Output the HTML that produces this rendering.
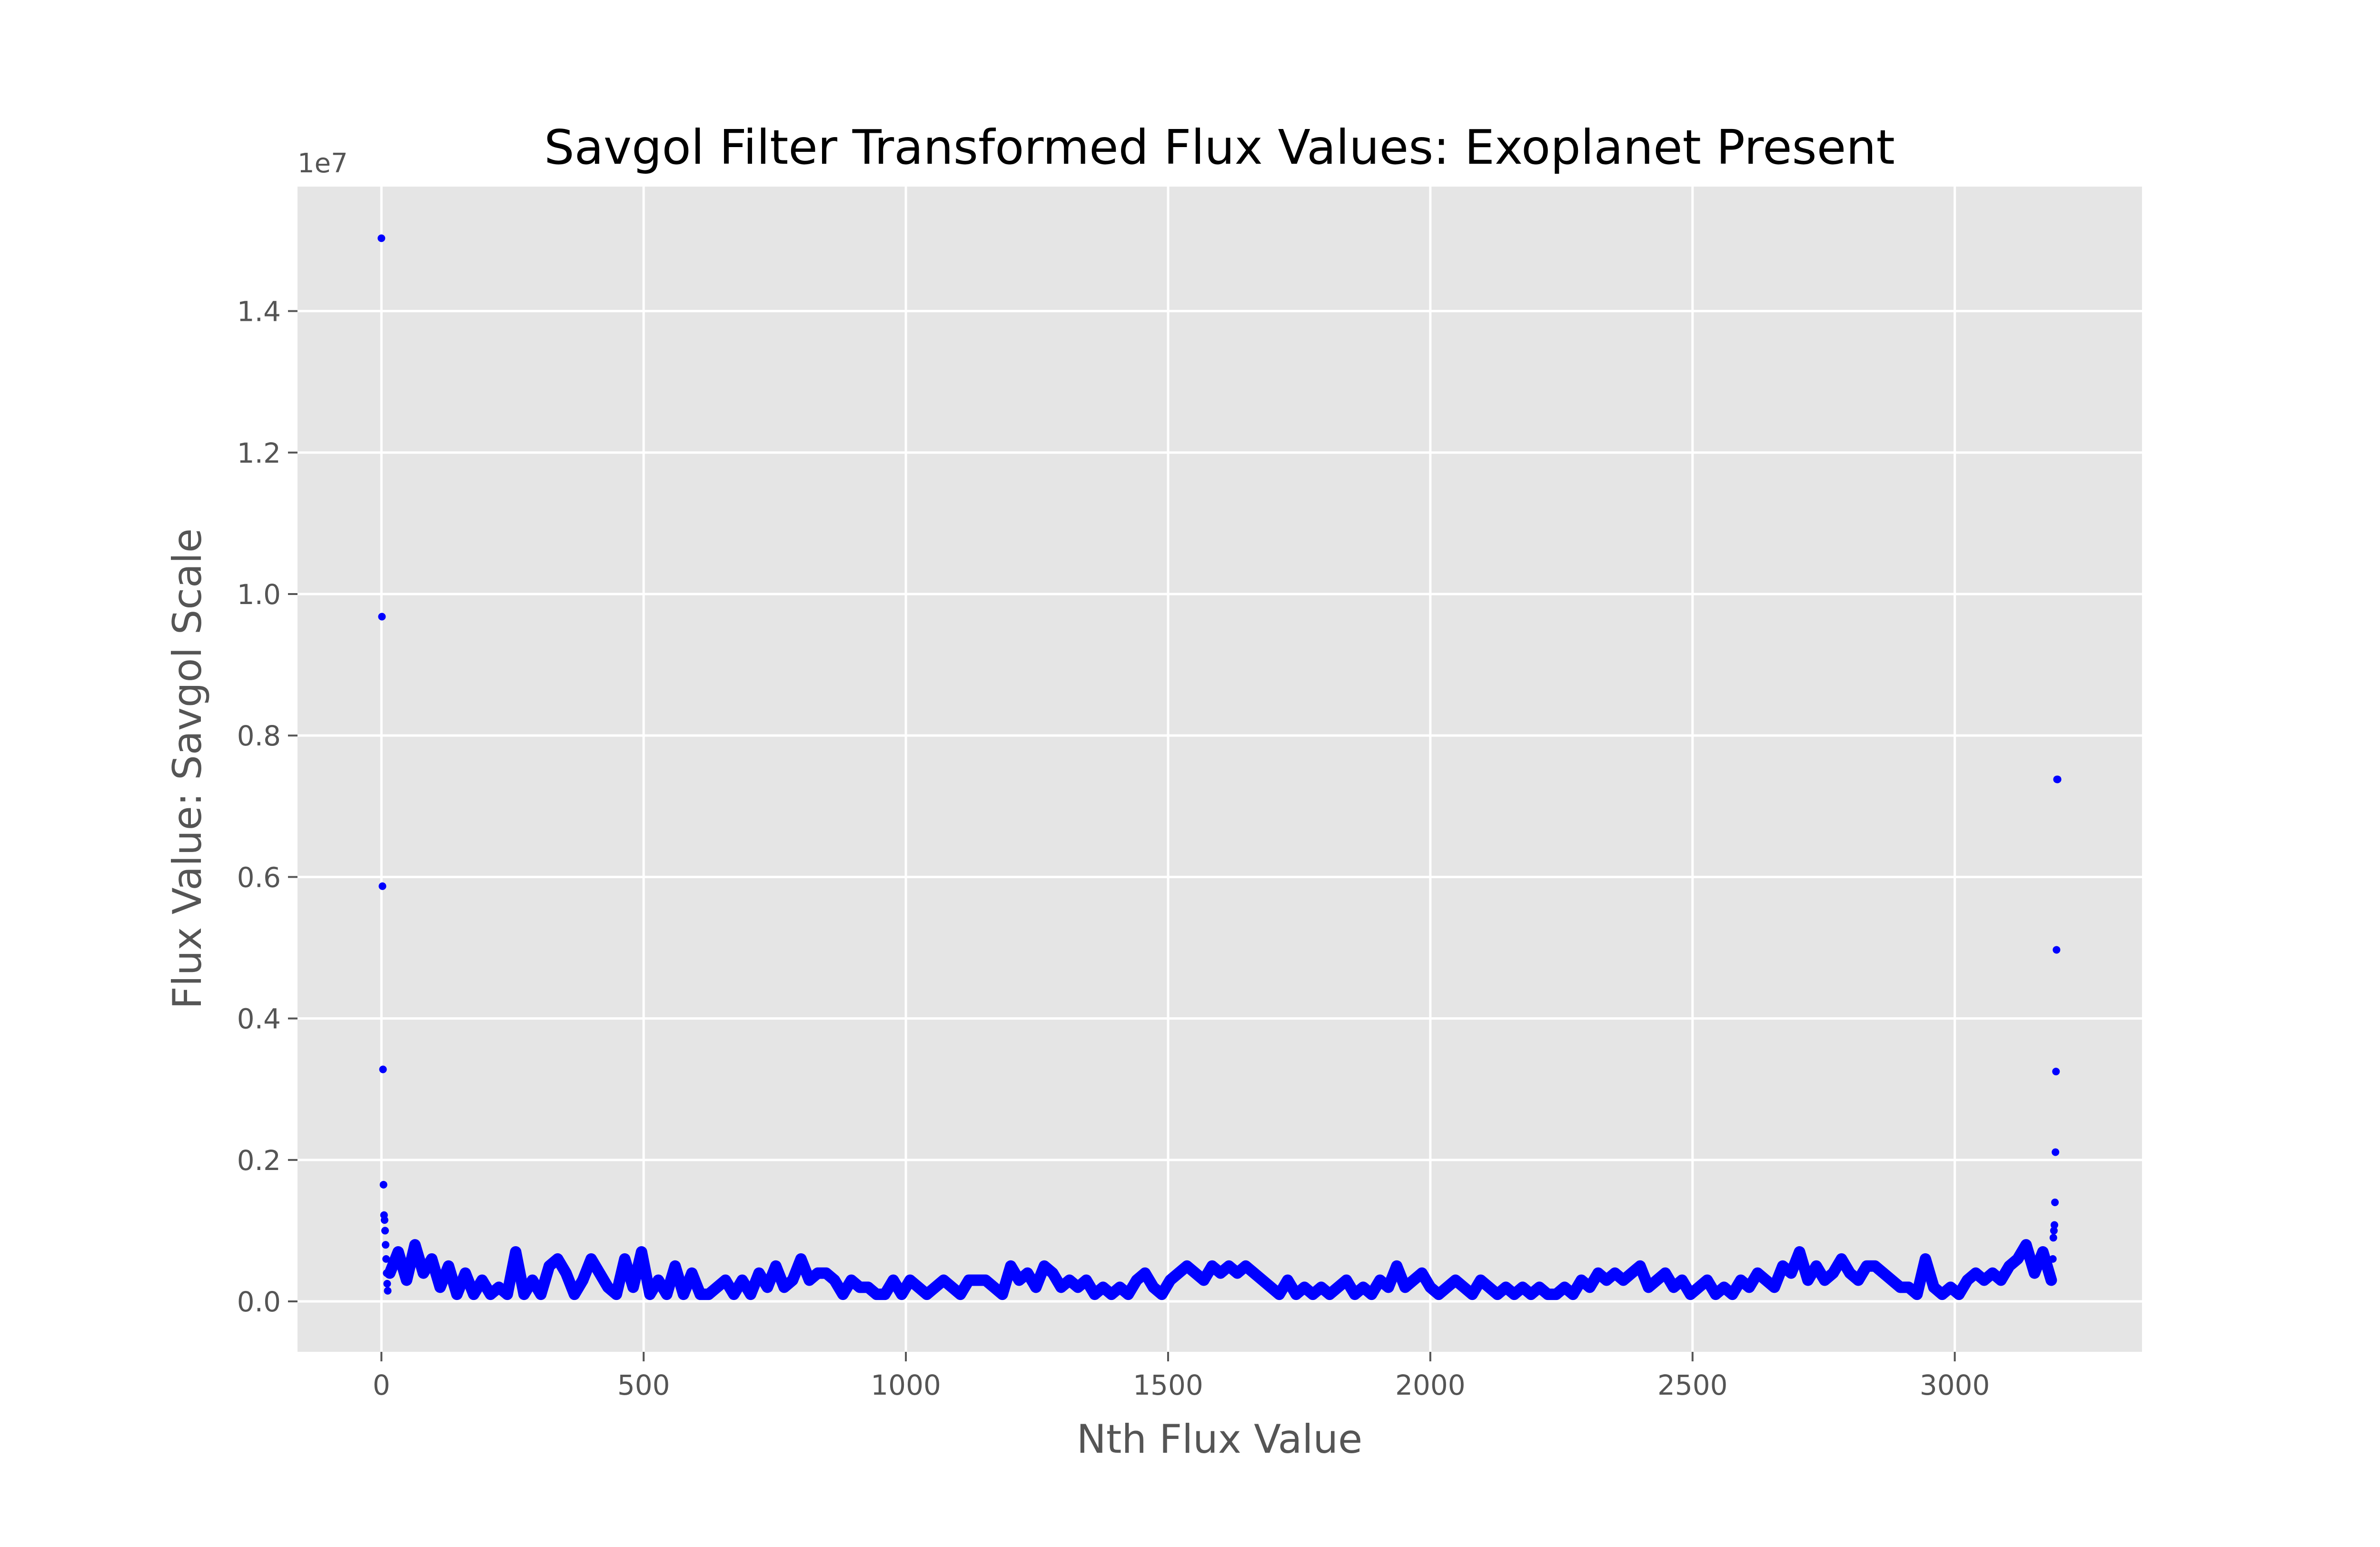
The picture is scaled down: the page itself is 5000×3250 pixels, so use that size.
<!DOCTYPE html>
<html><head><meta charset="utf-8"><style>
html,body{margin:0;padding:0;background:#fff}
svg{display:block}
text{font-family:"DejaVu Sans","Liberation Sans",sans-serif}
</style></head><body>
<svg id="chart" width="5000" height="3250" viewBox="0 0 5000 3250" xmlns="http://www.w3.org/2000/svg">
<rect width="5000" height="3250" fill="#fff"/>
<rect x="625" y="392" width="3875" height="2448" fill="#E5E5E5"/>
<g id="grid"></g>
<g id="ticks"></g>
<g id="series"></g>
<text x="2562" y="344" font-size="100" text-anchor="middle" fill="#000">Savgol Filter Transformed Flux Values: Exoplanet Present</text>
<text x="625" y="362" font-size="56" fill="#555">1e7</text>
<text x="2562" y="3052" font-size="83" text-anchor="middle" fill="#555">Nth Flux Value</text>
<text x="0" y="0" font-size="83" text-anchor="middle" fill="#555" transform="translate(422,1615) rotate(-90)">Flux Value: Savgol Scale</text>
</svg>
<script>
const xTicks = [0, 500, 1000, 1500, 2000, 2500, 3000];
const xTickLabels = ["0", "500", "1000", "1500", "2000", "2500", "3000"];
const yTicks = [0, 0.2, 0.4, 0.6, 0.8, 1.0, 1.2, 1.4];
const yTickLabels = ["0.0", "0.2", "0.4", "0.6", "0.8", "1.0", "1.2", "1.4"];
// start spike points (index, value in 1e7)
const startIdx = [0,1,2,3,4,5,6,7,8,9,10,11,12];
const startVals = [1.503,0.968,0.587,0.328,0.165,0.122,0.115,0.100,0.080,0.060,0.040,0.025,0.015];
// end spike points
const endIdx = [3186,3187,3188,3189,3190,3191,3192,3193,3194,3195,3196];
const endVals = [0.030,0.060,0.090,0.100,0.108,0.140,0.211,0.325,0.497,0.738,0.738];
// main band sampled every 16 indices from 16 (values in 1e5)
const bandStep = 16;
const bandVals = [4,7,3,8,4,6,2,5,1,4,1,3,1,2,1,7,1,3,1,5,6,4,1,3,6,4,2,1,6,2,7,1,3,1,5,1,4,1,1,2,3,1,3,1,4,2,5,2,3,6,3,4,4,3,1,3,2,2,1,1,3,1,3,2,1,2,3,2,1,3,3,3,2,1,5,3,4,2,5,4,2,3,2,3,1,2,1,2,1,3,4,2,1,3,4,5,4,3,5,4,5,4,5,4,3,2,1,3,1,2,1,2,1,2,3,1,2,1,3,2,5,2,3,4,2,1,2,3,2,1,3,2,1,2,1,2,1,2,1,1,2,1,3,2,4,3,4,3,4,5,2,3,4,2,3,1,2,3,1,2,1,3,2,4,3,2,5,4,7,3,5,3,4,6,4,3,5,5,4,3,2,2,1,6,2,1,2,1,3,4,3,4,3,5,6,8,4,7,3];

const X0=625,X1=4500,Y0=392,Y1=2840;
const xMin=-160,xMax=3357,yMin=-0.0713,yMax=1.576;
const sx=v=>X0+(v-xMin)/(xMax-xMin)*(X1-X0);
const sy=v=>Y1-(v-yMin)/(yMax-yMin)*(Y1-Y0);
const NS="http://www.w3.org/2000/svg";
function mk(tag,attrs,parent){const e=document.createElementNS(NS,tag);for(const k in attrs)e.setAttribute(k,attrs[k]);parent.appendChild(e);return e;}
const grid=document.getElementById('grid'),ticks=document.getElementById('ticks'),series=document.getElementById('series');
xTicks.forEach((t,i)=>{
  const g=mk('line',{x1:sx(t),x2:sx(t),y1:Y0,y2:Y1,stroke:'#fff','stroke-width':5},grid);
  
  
  const tk=mk('line',{x1:sx(t),x2:sx(t),y1:Y1,y2:Y1+20,stroke:'#555','stroke-width':4},ticks);
  
  
  const tl=mk('text',{x:sx(t),y:Y1+90,'font-size':58,'text-anchor':'middle',fill:'#555'},ticks);
  tl.textContent=xTickLabels[i];
  
  
});
yTicks.forEach((t,i)=>{
  const g=mk('line',{x1:X0,x2:X1,y1:sy(t),y2:sy(t),stroke:'#fff','stroke-width':5},grid);
  
  
  const tk=mk('line',{x1:X0-20,x2:X0,y1:sy(t),y2:sy(t),stroke:'#555','stroke-width':4},ticks);
  
  
  const tl=mk('text',{x:X0-35,y:sy(t)+21,'font-size':58,'text-anchor':'end',fill:'#555'},ticks);
  tl.textContent=yTickLabels[i];
  
  
});
// band polyline
let pts=[];
bandVals.forEach((v,i)=>{pts.push(sx((i+1)*bandStep)+','+sy(v/100));});
const pl=mk('polyline',{points:pts.join(' '),fill:'none',stroke:'#0000FF','stroke-width':24,'stroke-linejoin':'round','stroke-linecap':'round'},series);


function dots(idx,vals,name){
  idx.forEach((ix,i)=>{
    const c=mk('ellipse',{cx:sx(ix),cy:sy(vals[i]),rx:8,ry:8,fill:'#0000FF'},series);
    
    
  });
}
dots(startIdx,startVals,'start-point');
dots(endIdx,endVals,'end-point');
</script>
</body></html>
